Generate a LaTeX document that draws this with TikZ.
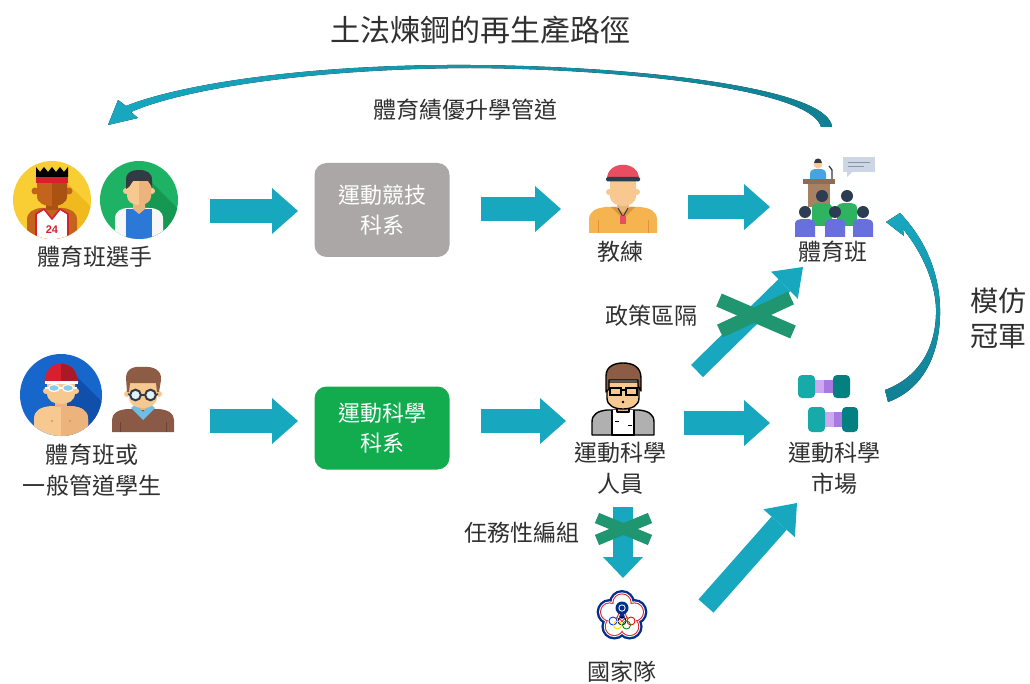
\documentclass[tikz,border=0pt]{standalone}
\usepackage{fontspec}
\setmainfont{Noto Sans CJK TC}
\newfontfamily\numfont{Liberation Sans}
\usetikzlibrary{arrows.meta}

\definecolor{flow}{RGB}{23,168,192}
\definecolor{flowdark}{RGB}{17,128,148}
\definecolor{cross}{RGB}{31,150,112}
\definecolor{ink}{RGB}{48,48,48}
\definecolor{boxgray}{RGB}{171,167,167}
\definecolor{boxgreen}{RGB}{18,172,78}
\definecolor{skin}{RGB}{248,200,145}
\definecolor{skinshade}{RGB}{236,180,124}
\definecolor{darkskin}{RGB}{196,100,28}
\definecolor{darkskinshade}{RGB}{170,82,18}
\definecolor{hairdark}{RGB}{52,58,68}
\definecolor{hairbrown}{RGB}{140,92,68}
\definecolor{sunny}{RGB}{248,206,52}
\definecolor{sunnyshade}{RGB}{240,186,30}
\definecolor{leaf}{RGB}{30,178,100}
\definecolor{leafshade}{RGB}{22,152,82}
\definecolor{sea}{RGB}{22,102,204}
\definecolor{seashade}{RGB}{16,80,170}
\definecolor{capred}{RGB}{214,32,48}
\definecolor{shirtblue}{RGB}{44,120,214}
\definecolor{sweater}{RGB}{138,90,70}
\definecolor{collar}{RGB}{110,190,230}
\definecolor{coachred}{RGB}{232,78,96}
\definecolor{navy}{RGB}{44,60,82}
\definecolor{coachshirt}{RGB}{245,180,80}
\definecolor{coachshirtdk}{RGB}{222,148,58}
\definecolor{podium}{RGB}{168,128,98}
\definecolor{bubble}{RGB}{205,214,228}
\definecolor{speaker}{RGB}{70,165,225}
\definecolor{crowdgreen}{RGB}{46,180,96}
\definecolor{crowdpurple}{RGB}{104,112,222}
\definecolor{coat}{RGB}{176,176,176}
\definecolor{tealA}{RGB}{22,170,168}
\definecolor{tealB}{RGB}{4,128,128}
\definecolor{lilac}{RGB}{205,170,240}
\definecolor{lilacdk}{RGB}{170,120,225}
\definecolor{olyblue}{RGB}{0,48,140}
\definecolor{olyred}{RGB}{220,30,40}

\begin{document}
\begin{tikzpicture}[x=1pt,y=-1pt,
  lbl/.style={text=ink,font=\fontsize{23}{31}\selectfont,align=center,inner sep=0pt},
  dept/.style={rounded corners=12pt,text=white,font=\fontsize{22}{30}\selectfont,
               align=center,inner sep=0pt,minimum width=135pt},
  flowarrow/.style n args={3}{draw=flow,line width=#1,
               -{Triangle[width=#2,length=#3,line width=0pt]}},
  crossbar/.style={draw=cross,line width=#1},
  outline/.style={draw=black,line width=1.4pt,line join=round}]

\useasboundingbox (0,0) rectangle (1030,684);
\fill[white] (0,0) rectangle (1030,684);

% ---------- titles and labels ----------
\node[text=ink,font=\fontsize{30}{30}\selectfont,inner sep=0pt] (title) at (480,30) {土法煉鋼的再生產路徑};
\node[lbl] (route) at (465,110) {體育績優升學管道};
\node[lbl] (athletes) at (95,257) {體育班選手};
\node[lbl] (coach) at (620,252) {教練};
\node[lbl] (sportsclass) at (833,252) {體育班};
\node[lbl] (policy) at (651,316) {政策區隔};
\node[lbl] (scientists) at (620,468) {運動科學\\人員};
\node[lbl] (market) at (834,468) {運動科學\\市場};
\node[lbl] (students) at (92,470) {體育班或\\一般管道學生};
\node[lbl] (taskforce) at (522,533) {任務性編組};
\node[lbl] (national) at (622,672) {國家隊};
\node[lbl,font=\fontsize{28}{35}\selectfont] (mimic) at (998,318) {模仿\\冠軍};

% ---------- departments ----------
\node[dept,fill=boxgray,minimum height=94pt] (compdept) at (382,210) {運動競技\\科系};
\node[dept,fill=boxgreen,minimum height=83pt] (scidept) at (382,428) {運動科學\\科系};

% ---------- swoosh arcs ----------
\fill[left color=flow,middle color=flow!30,right color=flowdark]
  (832,127) .. controls (829,88) and (640,66) .. (470,65)
  .. controls (300,64) and (175,86) .. (126,106)
  -- (118,100) -- (108,125) -- (138,118) -- (131,112)
  .. controls (178,91) and (300,69) .. (470,68)
  .. controls (630,69) and (812,90) .. (821,127) -- cycle;

\fill[top color=flow,middle color=flow!30,bottom color=flowdark]
  (888,402) .. controls (926,388) and (941,350) .. (940,308)
  .. controls (939,268) and (922,236) .. (900,213)
  -- (886,222) -- (904,236) -- (903,229)
  .. controls (922,252) and (935,282) .. (936,308)
  .. controls (937,346) and (920,377) .. (885,390) -- cycle;

% ---------- block arrows ----------
\coordinate (a1s) at (210,211); \coordinate (a1e) at (298,211);
\coordinate (a2s) at (481,209); \coordinate (a2e) at (561,209);
\coordinate (a3s) at (688,207); \coordinate (a3e) at (770,207);
\coordinate (b1s) at (210,421); \coordinate (b1e) at (298,421);
\coordinate (b2s) at (481,421); \coordinate (b2e) at (566,421);
\coordinate (b3s) at (684,423); \coordinate (b3e) at (770,423);
\coordinate (d1s) at (697,371); \coordinate (d1e) at (803,267);
\coordinate (d2s) at (706,606); \coordinate (d2e) at (797,503);
\coordinate (v1s) at (623,507); \coordinate (v1e) at (623,578);

\draw[flowarrow={24pt}{46pt}{26pt}] (a1s) -- (a1e);
\draw[flowarrow={24pt}{46pt}{26pt}] (a2s) -- (a2e);
\draw[flowarrow={24pt}{46pt}{26pt}] (a3s) -- (a3e);
\draw[flowarrow={24pt}{46pt}{26pt}] (b1s) -- (b1e);
\draw[flowarrow={24pt}{46pt}{26pt}] (b2s) -- (b2e);
\draw[flowarrow={24pt}{46pt}{26pt}] (b3s) -- (b3e);
\draw[flowarrow={17pt}{38pt}{26pt}] (d1s) -- (d1e);
\draw[flowarrow={20pt}{42pt}{27pt}] (d2s) -- (d2e);
\draw[flowarrow={20pt}{40pt}{21pt}] (v1s) -- (v1e);

% ---------- blocked routes ----------
\draw[crossbar=14pt] (719,300) -- (793,332);
\draw[crossbar=14pt] (720,331) -- (791,298);
\draw[crossbar=11pt] (597,518) -- (650,540);
\draw[crossbar=11pt] (597,540) -- (650,518);

% ---------- basketball player ----------
\begin{scope}[shift={(52,200)}]
  \fill[sunny] (0,0) circle (39pt);
  \begin{scope}
    \clip (0,0) circle (39pt);
    \fill[sunnyshade] (2,-30) -- (60,28) -- (60,60) -- (0,60) -- cycle;
    \fill[darkskin] (-25,45) -- (-25,20) .. controls (-25,12) and (-19,9) .. (-11,8) -- (11,8)
      .. controls (19,9) and (25,12) .. (25,20) -- (25,45) -- cycle;
    \fill[white] (-16,45) -- (-16,14) -- (-8,9) -- (0,19) -- (8,9) -- (16,14) -- (16,45) -- cycle;
    \draw[capred,line width=1.6pt,line join=round] (-16,45) -- (-16,14) -- (-8,9) -- (0,19) -- (8,9) -- (16,14) -- (16,45);
    \node[text=capred,font=\numfont\bfseries\fontsize{11}{11}\selectfont,inner sep=0pt] (num24) at (0,30) {24};
  \end{scope}
  \fill[darkskinshade] (-6,0) rectangle (6,10);
  \fill[darkskin] (-17,-9) circle (3.5pt) (17,-9) circle (3.5pt);
  \fill[darkskin] (-15,-18) -- (15,-18) -- (15,-4) .. controls (15,3) and (8,6) .. (0,6)
    .. controls (-8,6) and (-15,3) .. (-15,-4) -- cycle;
  \fill[darkskinshade] (0,-18) -- (15,-18) -- (15,-4) .. controls (15,3) and (8,6) .. (0,6) -- cycle;
  \fill[capred] (-16,-23) rectangle (16,-17);
  \fill[black] (-16,-23) -- (-16,-33) -- (-12,-28) -- (-8,-33) -- (-4,-28) -- (0,-33) -- (4,-28)
    -- (8,-33) -- (12,-28) -- (16,-33) -- (16,-23) -- cycle;
\end{scope}

% ---------- player in green ----------
\begin{scope}[shift={(139,200)}]
  \fill[leaf] (0,0) circle (39pt);
  \begin{scope}
    \clip (0,0) circle (39pt);
    \fill[leafshade] (2,-28) -- (60,30) -- (60,60) -- (0,60) -- cycle;
    \fill[white!94!gray] (-24,45) -- (-24,19) .. controls (-24,11) and (-18,8) .. (-10,8) -- (10,8)
      .. controls (18,8) and (24,11) .. (24,19) -- (24,45) -- cycle;
    \fill[shirtblue] (-13,45) -- (-13,9) -- (13,9) -- (13,45) -- cycle;
  \end{scope}
  \fill[skinshade] (-6,0) -- (6,0) -- (6,9) -- (0,14) -- (-6,9) -- cycle;
  \fill[skin] (-13,-9) circle (3pt) (13,-9) circle (3pt);
  \fill[skin] (-12,-20) -- (12,-20) -- (12,-4) .. controls (12,2) and (6,5) .. (0,5)
    .. controls (-6,5) and (-12,2) .. (-12,-4) -- cycle;
  \fill[skinshade] (0,-20) -- (12,-20) -- (12,-4) .. controls (12,2) and (6,5) .. (0,5) -- cycle;
  \fill[hairdark] (-13,-11) -- (-13,-20) .. controls (-13,-28) and (-7,-30) .. (0,-30)
    .. controls (8,-30) and (13,-27) .. (13,-20) -- (13,-13) -- (9,-19) -- (-6,-19) -- (-10,-13) -- cycle;
\end{scope}

% ---------- swimmer ----------
\begin{scope}[shift={(61,395)}]
  \fill[sea] (0,0) circle (41pt);
  \begin{scope}
    \clip (0,0) circle (41pt);
    \fill[seashade] (2,-32) -- (60,26) -- (60,60) -- (0,60) -- cycle;
    \fill[skin] (-27,50) -- (-27,24) .. controls (-27,15) and (-20,12) .. (-10,11) -- (10,11)
      .. controls (20,12) and (27,15) .. (27,24) -- (27,50) -- cycle;
    \fill[skinshade] (0,11) -- (10,11) .. controls (20,12) and (27,15) .. (27,24) -- (27,50) -- (0,50) -- cycle;
    \fill[darkskin!70] (-9,26) circle (1.2pt) (9,26) circle (1.2pt);
  \end{scope}
  \fill[skinshade] (-6,2) rectangle (6,12);
  \fill[skin] (-15,-4) circle (3pt) (15,-4) circle (3pt);
  \fill[skin] (-14,-14) -- (14,-14) -- (14,-2) .. controls (14,6) and (7,9) .. (0,9)
    .. controls (-7,9) and (-14,6) .. (-14,-2) -- cycle;
  \fill[capred] (-16.5,-12) .. controls (-17,-38) and (17,-38) .. (16.5,-12) -- cycle;
  \fill[capred!80!black] (0,-31) .. controls (10,-31) and (16.5,-25) .. (16.5,-12) -- (0,-12) -- cycle;
  \fill[white] (-16.5,-14) rectangle (16.5,-11);
  \draw[white,line width=2pt] (-16,-7) -- (16,-7);
  \filldraw[fill=collar!80,draw=white,line width=1.2pt] (-7,-7) ellipse (5.5pt and 3.5pt) (7,-7) ellipse (5.5pt and 3.5pt);
\end{scope}

% ---------- student with glasses ----------
\begin{scope}[shift={(143,400)}]
  \fill[sweater] (-31,32) -- (-31,20) .. controls (-31,13) and (-25,10) .. (-16,9) -- (16,9)
    .. controls (25,10) and (31,13) .. (31,20) -- (31,32) -- cycle;
  \draw[sweater!75!black,line width=0.8pt] (-23,22) -- (-23,32) (23,22) -- (23,32);
  \fill[skinshade] (-6,0) rectangle (6,10);
  \fill[collar] (-12,8) -- (0,20) -- (12,8) -- (7,4) -- (0,12) -- (-7,4) -- cycle;
  \fill[skin] (-16,-6) circle (3pt) (16,-6) circle (3pt);
  \fill[skin] (-14,-18) -- (14,-18) -- (14,-3) .. controls (14,5) and (7,8) .. (0,8)
    .. controls (-7,8) and (-14,5) .. (-14,-3) -- cycle;
  \fill[hairbrown] (-16,-8) -- (-17,-22) .. controls (-17,-32) and (-8,-34) .. (0,-33)
    .. controls (10,-34) and (19,-30) .. (18,-20) -- (16,-8) -- (14,-8) -- (13,-17) -- (-13,-17) -- (-14,-8) -- cycle;
  \filldraw[fill=white!80!collar,draw=hairdark,line width=2pt] (-7.5,-5) circle (5.3pt) (7.5,-5) circle (5.3pt);
  \draw[hairdark,line width=1.6pt] (-2.2,-5) -- (2.2,-5) (-12.8,-5) -- (-15,-6) (12.8,-5) -- (15,-6);
\end{scope}

% ---------- coach ----------
\begin{scope}[shift={(623,198)}]
  \fill[coachshirt] (-34,35) -- (-34,22) .. controls (-34,13) and (-27,10) .. (-17,9) -- (17,9)
    .. controls (27,10) and (34,13) .. (34,22) -- (34,35) -- cycle;
  \draw[coachshirtdk,line width=1pt] (-25,22) -- (-25,35) (25,22) -- (25,35);
  \fill[skinshade] (-6,0) rectangle (6,12);
  \fill[coachshirtdk] (-12,9) -- (0,21) -- (12,9) -- (7,9) -- (0,15) -- (-7,9) -- cycle;
  \draw[navy,line width=1pt] (-5,10) -- (0,19) -- (5,10);
  \fill[coachred] (-3,18) rectangle (3,26);
  \fill[skin] (-14,-6) circle (3pt) (14,-6) circle (3pt);
  \fill[skin] (-13,-18) -- (13,-18) -- (13,-2) .. controls (13,5) and (6,8) .. (0,8)
    .. controls (-6,8) and (-13,5) .. (-13,-2) -- cycle;
  \fill[coachred] (-16,-19) .. controls (-16,-38) and (16,-38) .. (16,-19) -- cycle;
  \fill[navy,rounded corners=1.5pt] (-17,-21) rectangle (17,-16.5);
\end{scope}

% ---------- lecture hall ----------
\begin{scope}[shift={(837,195)}]
  \fill[bubble] (6,-38) rectangle (38,-23);
  \fill[bubble] (10,-24) -- (10,-18) -- (16,-24) -- cycle;
  \draw[navy!55,line width=0.6pt] (11,-33) -- (33,-33) (11,-29) -- (27,-29);
  \fill[speaker] (-27,-15) -- (-27,-21) .. controls (-27,-25) and (-24,-26) .. (-20,-26) -- (-18,-26)
    .. controls (-14,-26) and (-11,-25) .. (-11,-21) -- (-11,-15) -- cycle;
  \fill[skin] (-19,-31) circle (4.3pt);
  \fill[hairdark] (-23.3,-32) .. controls (-23.3,-38) and (-14.7,-38) .. (-14.7,-32) -- cycle;
  \draw[hairdark,line width=1.3pt] (-5,-14) -- (-5,-25) -- (-8,-29);
  \fill[podium!85!black] (-34,-16) rectangle (-2,-11);
  \fill[podium] (-29,-11) rectangle (-7,12);
  \foreach \c in {-15,10} {
    \fill[crowdgreen] (\c-10,31) -- (\c-10,13) .. controls (\c-10,9) and (\c-7,8) .. (\c,8)
      .. controls (\c+7,8) and (\c+10,9) .. (\c+10,13) -- (\c+10,31) -- cycle;
    \fill[navy] (\c,1) circle (6pt);
  }
  \foreach \c in {-32,-2,26} {
    \fill[crowdpurple] (\c-10,42) -- (\c-10,29) .. controls (\c-10,25) and (\c-7,24) .. (\c,24)
      .. controls (\c+7,24) and (\c+10,25) .. (\c+10,29) -- (\c+10,42) -- cycle;
    \fill[navy] (\c,17) circle (6pt);
  }
\end{scope}

% ---------- sports scientist ----------
\begin{scope}[shift={(623,400)}]
  \filldraw[fill=coat,outline] (-31,35) -- (-31,22) .. controls (-31,14) and (-25,11) .. (-16,10) -- (16,10)
    .. controls (25,11) and (31,14) .. (31,22) -- (31,35) -- cycle;
  \filldraw[fill=white,outline] (-11,10) -- (-11,35) -- (11,35) -- (11,10);
  \draw[black,line width=1pt] (-8,21) -- (-4,21) (5,25) -- (9,25);
  \filldraw[fill=skinshade,outline] (-6,4) rectangle (6,12);
  \filldraw[fill=skin,outline] (-16,-18) -- (16,-18) -- (16,-2) .. controls (16,6) and (8,9) .. (0,9)
    .. controls (-8,9) and (-16,6) .. (-16,-2) -- cycle;
  \filldraw[fill=hairbrown,outline] (-17,-8) -- (-17,-24) .. controls (-17,-34) and (-8,-37) .. (0,-37)
    .. controls (10,-37) and (18,-33) .. (18,-22) -- (18,-9) -- (15,-14) -- (15,-20) -- (-14,-20) -- (-14,-11) -- cycle;
  \draw[black,line width=2.2pt] (-13,-12) rectangle (-2,-5) (3,-12) rectangle (14,-5) (-2,-10) -- (3,-10);
  \fill[black] (0,2) circle (1.3pt);
\end{scope}

% ---------- sports science market ----------
\fill[lilac] (813,380) rectangle (835,393);
\fill[lilacdk] (824,380) rectangle (835,393);
\fill[tealA,rounded corners=4pt] (798,375) rectangle (815,398);
\fill[tealB,rounded corners=4pt] (833,375) rectangle (850,398);
\fill[lilac] (823,412) rectangle (844,427);
\fill[lilacdk] (834,412) rectangle (844,427);
\fill[tealA,rounded corners=4pt] (808,407) rectangle (825,432);
\fill[tealB,rounded corners=4pt] (842,407) rectangle (858,432);

% ---------- national team emblem ----------
\begin{scope}[shift={(622,616)}]
  \fill[olyblue] (90:13pt) circle (13pt) (18:13pt) circle (13pt) (162:13pt) circle (13pt)
    (234:13pt) circle (13pt) (306:13pt) circle (13pt);
  \fill[white] (90:13pt) circle (10.6pt) (18:13pt) circle (10.6pt) (162:13pt) circle (10.6pt)
    (234:13pt) circle (10.6pt) (306:13pt) circle (10.6pt);
  \fill[olyred] (90:13pt) circle (9.6pt) (18:13pt) circle (9.6pt) (162:13pt) circle (9.6pt)
    (234:13pt) circle (9.6pt) (306:13pt) circle (9.6pt);
  \fill[white] (90:13pt) circle (8.6pt) (18:13pt) circle (8.6pt) (162:13pt) circle (8.6pt)
    (234:13pt) circle (8.6pt) (306:13pt) circle (8.6pt);
  \fill[olyblue] (0,-8) circle (6.5pt);
  \fill[white] (0,-8) circle (3.6pt);
  \fill[olyblue] (0,-8) circle (2.6pt);
  \draw[line width=0.9pt,blue!80!cyan] (-9,5) circle (4pt);
  \draw[line width=0.9pt,black] (0,5) circle (4pt);
  \draw[line width=0.9pt,red] (9,5) circle (4pt);
  \draw[line width=0.9pt,yellow!80!orange] (-4.5,9) circle (4pt);
  \draw[line width=0.9pt,green!60!black] (4.5,9) circle (4pt);
\end{scope}

\end{tikzpicture}
\end{document}
